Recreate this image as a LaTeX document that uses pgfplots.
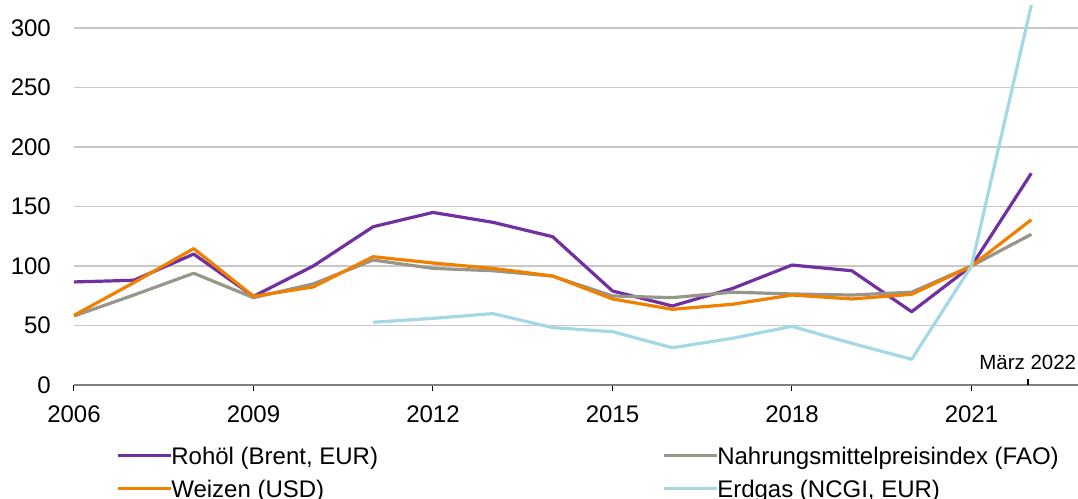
\documentclass[border=0pt]{standalone}
\usepackage{fontspec}
\setmainfont{Liberation Sans}
\usepackage{pgfplots}
\pgfplotsset{compat=1.18}
\definecolor{cRoh}{RGB}{112,48,160}
\definecolor{cWei}{RGB}{240,128,0}
\definecolor{cNah}{RGB}{150,150,140}
\definecolor{cErd}{RGB}{163,216,228}
\definecolor{cGrid}{RGB}{200,200,200}
\definecolor{cAxis}{RGB}{128,128,128}
\begin{document}
\fontsize{24bp}{28bp}\selectfont
\begin{tikzpicture}
\begin{axis}[
  at={(0bp,0bp)}, anchor=south west,
  scale only axis, width=1004bp, height=385bp,
  xmin=2006, xmax=2022.78, ymin=0, ymax=323.5,
  axis x line*=bottom, axis y line*=left,
  y axis line style={draw=none},
  x axis line style={draw=cAxis, line width=1.5bp},
  ytick={50,100,150,200,250,300},
  yticklabels={50,100,150,200,250,300},
  extra y ticks={0}, extra y tick labels={0},
  extra y tick style={grid=none},
  ymajorgrids, grid style={cGrid, line width=1.5bp},
  ytick style={draw=none},
  xtick={2006,2009,2012,2015,2018,2021},
  xticklabels={2006,2009,2012,2015,2018,2021},
  xtick style={black, line width=1bp},
  tick align=outside, major tick length=6bp,
  extra x ticks={2021.94}, extra x tick labels={},
  extra x tick style={tick align=inside, xtick style={black, line width=2.2bp}, major tick length=6bp},
  yticklabel style={inner sep=0pt, anchor=east, xshift=-17bp},
  xticklabel style={inner sep=0pt, anchor=north, yshift=-15bp},
  tick label style={font=\fontsize{24bp}{28bp}\selectfont},
  legend image code/.code={\draw[#1] (0bp,0bp) -- (53bp,0bp);},
  legend columns=2,
  legend cell align=left,
  legend style={draw=none, fill=none, at={(axis description cs:0.0388,-0.1338)}, anchor=north west,
    font=\fontsize{24bp}{28bp}\selectfont,
    nodes={inner sep=0pt, text height=25.8bp, text depth=7.2bp},
    /tikz/every odd column/.style={column sep=-1bp},
    /tikz/every even column/.style={column sep=284bp}},
  every axis plot/.append style={line width=3.2bp, line join=round},
  clip=false,
]
\addplot[cRoh] coordinates {(2006,86.6)(2007,88)(2008,110)(2009,74.5)(2010,100)(2011,133)(2012,145)(2013,136.7)(2014,124.6)(2015,79)(2016,66.4)(2017,81)(2018,100.8)(2019,96)(2020,61.6)(2021,100)(2022,177.9)};
\addlegendentry{Rohöl (Brent, EUR)}
\addplot[cNah] coordinates {(2006,58)(2007,75.6)(2008,93.9)(2009,73.4)(2010,85)(2011,105)(2012,98)(2013,96)(2014,91.5)(2015,74.8)(2016,73.4)(2017,78)(2018,76.5)(2019,75.6)(2020,78)(2021,100)(2022,126.6)};
\addlegendentry{Nahrungsmittelpreisindex (FAO)}
\addplot[cWei] coordinates {(2006,58.5)(2007,86)(2008,114.6)(2009,74.5)(2010,82.4)(2011,107.8)(2012,102.5)(2013,98)(2014,91.6)(2015,72.3)(2016,63.6)(2017,67.8)(2018,75.6)(2019,72.3)(2020,76.2)(2021,100)(2022,138.9)};
\addlegendentry{Weizen (USD)}
\addplot[cErd] coordinates {(2011,52.7)(2012,56)(2013,60)(2014,48.2)(2015,44.8)(2016,31.3)(2017,39.2)(2018,49.3)(2019,35)(2020,21.6)(2021,100)(2022,319.3)};
\addlegendentry{Erdgas (NCGI, EUR)}
\node[anchor=base, inner sep=0pt, font=\fontsize{20.5bp}{24bp}\selectfont] at (axis cs:2021.94,0) [yshift=15.7bp] {März 2022};
\end{axis}
\pgfresetboundingbox
\path[use as bounding box] (-74bp,-114bp) rectangle (1004bp,385bp);
\end{tikzpicture}
\end{document}
